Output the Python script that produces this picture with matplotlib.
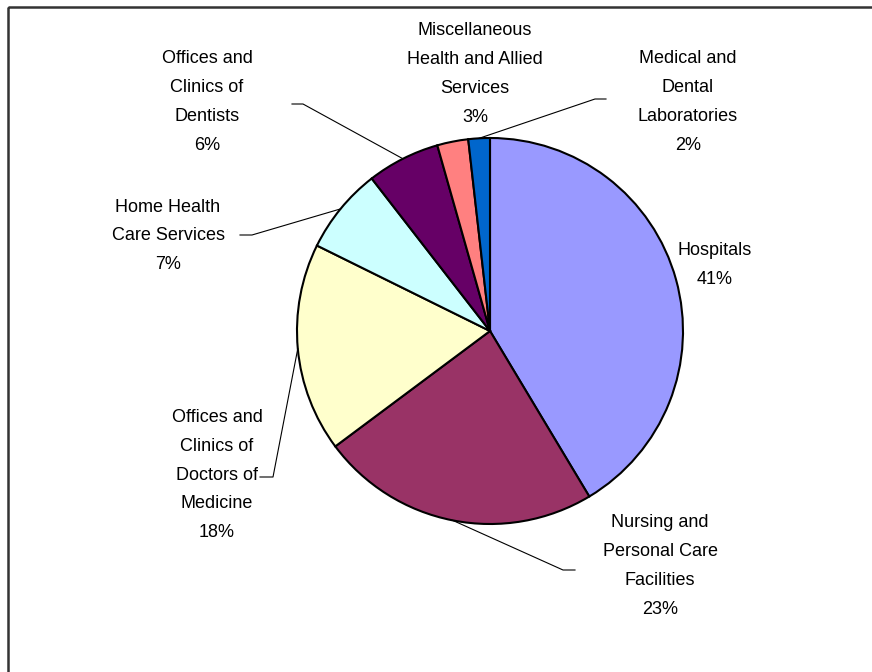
import numpy as np
import matplotlib
matplotlib.use("Agg")
import matplotlib.pyplot as plt
from matplotlib.patches import Rectangle

labels = ["Hospitals", "Nursing and\nPersonal Care\nFacilities",
          "Offices and\nClinics of\nDoctors of\nMedicine",
          "Home Health\nCare Services", "Offices and\nClinics of\nDentists",
          "Miscellaneous\nHealth and Allied\nServices",
          "Medical and\nDental\nLaboratories"]
values = [41.4, 23.4, 17.5, 7.2, 6.1, 2.6, 1.8]
colors = ["#9999FF", "#993366", "#FFFFCC", "#CCFFFF", "#660066", "#FF8080", "#0066CC"]

# label layout in pixel coords: text centre, elbow point, end of leader
text_pos = [(715, 265), (660, 566), (217, 475), (168, 236), (207, 102), (475, 74), (688, 102)]
elbow = [None, (563, 570), (273, 477), (252, 235), (303, 104), None, (595, 99)]
tail = [None, (575, 570), (260, 477), (240, 235), (292, 104), None, (606, 99)]

plt.rcParams['font.family'] = ['Liberation Sans', 'DejaVu Sans']

fig = plt.figure(figsize=(8.72, 6.72), dpi=100)
ax = fig.add_axes([0, 0, 1, 1])

cx, cy, r = 490, 331, 193
ax.pie(values, colors=colors, center=(cx, cy), radius=r, startangle=-90,
       counterclock=True, wedgeprops=dict(edgecolor="black", linewidth=1.5),
       frame=True)
ax.set_xlim(0, 872)
ax.set_ylim(672, 0)
ax.set_aspect("equal")
ax.axis("off")

total = sum(values)
cum = np.cumsum([0] + values)
for i, lab in enumerate(labels):
    pct = "%d%%" % int(values[i] / total * 100 + 0.5)
    tx, ty = text_pos[i]
    ax.text(tx, ty, lab + "\n" + pct, ha="center", va="center",
            fontsize=13, linespacing=1.9, color="black")
    if elbow[i] is not None:
        mid = np.deg2rad(-90 + (cum[i] + values[i] / 2) / total * 360)
        px, py = cx + r * np.cos(mid), cy + r * np.sin(mid)
        ex, ey = elbow[i]
        sx, sy = tail[i]
        ax.plot([px, ex, sx], [py, ey, sy], color="black", lw=0.8)

ax.add_patch(Rectangle((8, 7), 900, 700, fill=False, edgecolor="#333333",
                       linewidth=1.8, clip_on=False))

fig.savefig("out.png", dpi=100)
